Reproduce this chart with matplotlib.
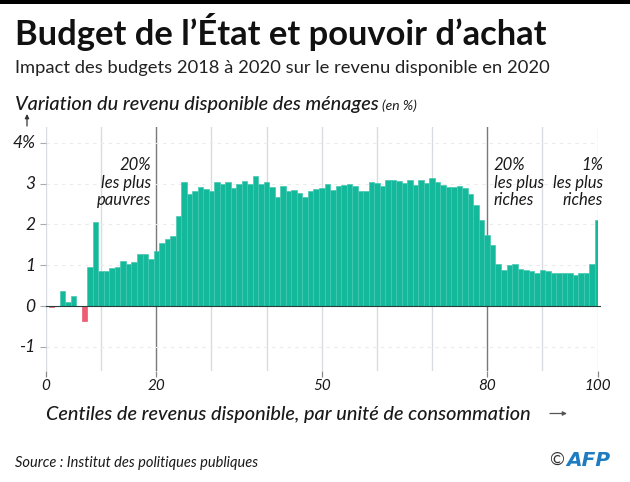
import matplotlib
matplotlib.use("Agg")
import matplotlib.pyplot as plt
from matplotlib.patches import FancyArrowPatch, Rectangle
from matplotlib.transforms import ScaledTranslation

W, H = 630, 482
centiles = list(range(1, 101))
values = [-0.03, 0.0, 0.36, 0.1, 0.25, 0.0, -0.37, 0.96, 2.05, 0.87,
          0.85, 0.94, 0.96, 1.1, 1.03, 1.08, 1.27, 1.27, 1.15, 1.35,
          1.55, 1.63, 1.72, 2.2, 3.04, 2.75, 2.82, 2.92, 2.87, 2.81,
          3.03, 3.0, 3.03, 2.89, 3.0, 3.06, 2.98, 3.19, 3.0, 3.05,
          2.92, 2.67, 2.95, 2.83, 2.84, 2.78, 2.67, 2.83, 2.87, 2.89,
          3.0, 2.85, 2.94, 2.97, 2.99, 2.95, 2.83, 2.83, 3.05, 3.02,
          2.93, 3.1, 3.09, 3.07, 3.02, 3.1, 2.96, 3.08, 3.01, 3.14,
          3.04, 2.96, 2.91, 2.91, 2.95, 2.88, 2.75, 2.48, 2.1, 1.75,
          1.49, 1.03, 0.89, 1.01, 1.03, 0.91, 0.89, 0.87, 0.8, 0.89,
          0.85, 0.81, 0.81, 0.81, 0.81, 0.77, 0.81, 0.81, 1.03, 2.11]
x_ticks = [0, 20, 50, 80, 100]
y_ticks = [-1, 0, 1, 2, 3, 4]
y_labels = ["-1", "0", "1", "2", "3", "4%"]
grid_x = [0, 10, 30, 40, 50, 60, 70, 90, 100]
dark_x = [20, 80]

TEAL = "#14B89B"
EDGE = "#45CAB2"
RED = "#EE5C72"
INK = "#1a1a1a"
plt.rcParams["font.family"] = ["Lato", "DejaVu Sans"]

fig = plt.figure(figsize=(W / 100, H / 100), dpi=100)

# plot rectangle in reference pixels
x0, x100 = 46.0, 597.5
y_top_px, y_bot_px = 127.0, 371.0
y0_px, unit = 306.0, 40.8
ax = fig.add_axes([x0 / W, 1 - y_bot_px / H, (x100 - x0) / W, (y_bot_px - y_top_px) / H])
ax.set_xlim(0, 100)
ax.set_ylim((y0_px - y_bot_px) / unit, (y0_px - y_top_px) / unit)
ax.patch.set_alpha(0)
for s in ax.spines.values():
    s.set_visible(False)

for gx in grid_x:
    ax.axvline(gx, color="#d8dce0", lw=1.0, zorder=1)
for gx in dark_x:
    ax.axvline(gx, color="#77797b", lw=1.0, zorder=1)
for gy in y_ticks:
    if gy != 0:
        ax.axhline(gy, color="#ebebeb", lw=0.8, ls=(0, (3, 4)), zorder=1)

colors = [TEAL if v >= 0 else RED for v in values]
edges = [EDGE if v >= 0 else RED for v in values]
ax.bar(centiles, values, width=1.0, color=colors, edgecolor=edges, linewidth=0.5, zorder=2)
ax.plot([0, 100.5], [0, 0], color="#25403c", lw=0.8, zorder=3, clip_on=False)

ax.set_xticks(x_ticks)
ax.set_xticklabels([str(t) for t in x_ticks], style="italic", fontsize=11, color=INK)
ax.set_yticks(y_ticks)
ax.set_yticklabels(y_labels, style="italic", fontsize=12.5, color=INK)
ax.tick_params(axis="x", length=4.5, width=0.9, color="#888888", pad=1.5)
ax.tick_params(axis="y", length=4.5, width=0.8, color="#aaaaaa", pad=3)
lift = ScaledTranslation(0, 1 / 100, fig.dpi_scale_trans)
for t in ax.get_yticklabels():
    t.set_transform(t.get_transform() + lift)


def T(px, py, s, **kw):
    kw.setdefault("color", INK)
    kw.setdefault("va", "baseline")
    return fig.text(px / W, 1 - py / H, s, **kw)


# top rule
fig.add_artist(Rectangle((0, 1 - 4 / H), 1, 4 / H, transform=fig.transFigure,
                         facecolor="#000000", edgecolor="none"))

T(15, 45, "Budget de l’État et pouvoir d’achat", fontsize=24.8, weight="bold", color="#111111")
T(15, 73, "Impact des budgets 2018 à 2020 sur le revenu disponible en 2020", fontsize=13.2, color="#222222")
T(15, 110, "Variation du revenu disponible des ménages", fontsize=14.3, style="italic", weight="medium")
T(382, 110, "(en %)", fontsize=10, style="italic")

lab = dict(fontsize=12, style="italic", linespacing=1.12, va="top")
T(151, 157, "20%\nles plus\npauvres", ha="right", **lab)
T(494, 157, "20%\nles plus\nriches", ha="left", **lab)
T(603, 157, "1%\nles plus\nriches", ha="right", **lab)

T(46, 420, "Centiles de revenus disponible, par unité de consommation", fontsize=14.3, style="italic", weight="medium")
T(15, 467, "Source : Institut des politiques publiques", fontsize=10.5, style="italic")

# axis direction arrows
arrow = dict(transform=fig.transFigure, arrowstyle="-|>", mutation_scale=6,
             shrinkA=0, shrinkB=0, lw=0.9)
fig.add_artist(FancyArrowPatch((27 / W, 1 - 126 / H), (27 / W, 1 - 114 / H), color="#333333", **arrow))
fig.add_artist(FancyArrowPatch((550 / W, 1 - 413.5 / H), (567 / W, 1 - 413.5 / H), color="#555555", **arrow))

T(549, 465, "©", fontsize=13, ha="left", color="#333333")
T(566, 466, "AFP", fontsize=14.5, ha="left", weight="bold", style="italic",
  family="DejaVu Sans", color="#1f7cc0")

fig.savefig("out.png", dpi=100)
